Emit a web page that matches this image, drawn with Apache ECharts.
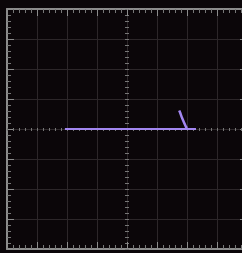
<!DOCTYPE html>
<html>
<head>
<meta charset="utf-8">
<style>
  html, body { margin: 0; padding: 0; background: #0b0609; }
  #scope { width: 242px; height: 253px; }
</style>
<script src="https://cdn.jsdelivr.net/npm/echarts@6/dist/echarts.min.js"></script>
</head>
<body>
<div id="scope"></div>
<script>
// trace, in divisions (8 x 8 graticule, centre = 0)
var baseX = [-2.07, 2.3];
var baseY = [0, 0];
var pulseX = [1.74, 1.77, 1.83, 1.9, 1.96, 2.0];
var pulseY = [0.62, 0.55, 0.38, 0.22, 0.08, 0.03];

var xRange = [-4, 4];
var yRange = [-4, 4];

var traceColor = '#a286f0',
    frameColor = '#8c8c8c',
    gridColor = '#2c2629';

function pairs(xs, ys) {
    var out = [];
    for (var i = 0; i < xs.length; i++) {
        out.push([xs[i], ys[i]]);
    }
    return out;
}

// one frame axis (edge of the graticule)
function frameAxis(position, grid) {
    return {
        type: 'value',
        position: position,
        min: xRange[0],
        max: xRange[1],
        interval: 1,
        axisLabel: { show: false },
        axisLine: { show: true, onZero: false, lineStyle: { color: frameColor, width: 2 } },
        axisTick: { show: true, inside: true, length: 7, lineStyle: { color: frameColor } },
        minorTick: { show: true, splitNumber: 5, length: 4, lineStyle: { color: '#777' } },
        splitLine: { show: grid, lineStyle: { color: gridColor, width: 1 } },
        minorSplitLine: { show: false }
    };
}

// dashed centre axis
function centreAxis(position, offset, len) {
    return {
        type: 'value',
        position: position,
        offset: offset,
        min: -4,
        max: 4,
        interval: 0.2,
        axisLabel: { show: false },
        axisLine: { show: false, onZero: false },
        axisTick: { show: true, inside: true, length: len, lineStyle: { color: '#767676' } },
        splitLine: { show: false }
    };
}

var chart = echarts.init(document.getElementById('scope'), null, { renderer: 'canvas' });

chart.setOption({
    backgroundColor: '#0b0609',
    animation: false,
    grid: { left: 7, top: 9, width: 240, height: 240, outerBoundsMode: 'none', containLabel: false },
    xAxis: [
        frameAxis('bottom', true),
        frameAxis('top', false),
        centreAxis('bottom', -118, 3)
    ],
    yAxis: [
        frameAxis('left', true),
        frameAxis('right', false),
        centreAxis('left', -118, 4)
    ],
    series: [
        {
            type: 'line',
            data: pairs(baseX, baseY),
            showSymbol: false,
            lineStyle: { color: traceColor, width: 2 },
            z: 5
        },
        {
            type: 'line',
            data: pairs(pulseX, pulseY),
            showSymbol: false,
            lineStyle: { color: traceColor, width: 2.5 },
            z: 5
        }
    ]
});
</script>
</body>
</html>
